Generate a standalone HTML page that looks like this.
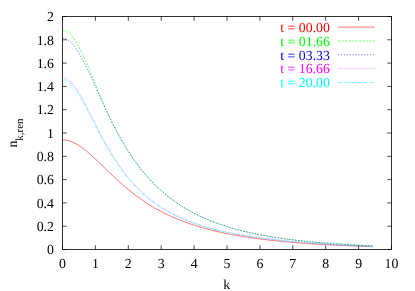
<!DOCTYPE html>
<html><head><meta charset="utf-8"><title>plot</title>
<style>
html,body{margin:0;padding:0;background:#fff;}
body{width:415px;height:291px;overflow:hidden;font-family:"Liberation Serif",serif;}
svg{display:block;will-change:transform;}
text{text-rendering:geometricPrecision;font-family:"Liberation Serif",serif;font-size:13.8px;fill:#000;}
.ax{stroke:#000;stroke-width:0.8;fill:none;}
.tk{stroke:#000;stroke-width:0.7;fill:none;}
.c{fill:none;stroke-width:0.56;}
</style></head><body>
<svg width="415" height="291" viewBox="0 0 415 291">
<rect x="0" y="0" width="415" height="291" fill="#fff"/>
<path class="tk" d="M62.50,249.5v-4.3M62.50,16.5v4.3M62.5,249.50h4.3M391.5,249.50h-4.3M95.40,249.5v-4.3M95.40,16.5v4.3M62.5,226.20h4.3M391.5,226.20h-4.3M128.30,249.5v-4.3M128.30,16.5v4.3M62.5,202.90h4.3M391.5,202.90h-4.3M161.20,249.5v-4.3M161.20,16.5v4.3M62.5,179.60h4.3M391.5,179.60h-4.3M194.10,249.5v-4.3M194.10,16.5v4.3M62.5,156.30h4.3M391.5,156.30h-4.3M227.00,249.5v-4.3M227.00,16.5v4.3M62.5,133.00h4.3M391.5,133.00h-4.3M259.90,249.5v-4.3M259.90,16.5v4.3M62.5,109.70h4.3M391.5,109.70h-4.3M292.80,249.5v-4.3M292.80,16.5v4.3M62.5,86.40h4.3M391.5,86.40h-4.3M325.70,249.5v-4.3M325.70,16.5v4.3M62.5,63.10h4.3M391.5,63.10h-4.3M358.60,249.5v-4.3M358.60,16.5v4.3M62.5,39.80h4.3M391.5,39.80h-4.3M391.50,249.5v-4.3M391.50,16.5v4.3M62.5,16.50h4.3M391.5,16.50h-4.3"/>
<rect class="ax" x="62.5" y="16.5" width="329.0" height="233.0"/>
<text x="53.9" y="254.25" text-anchor="end">0</text>
<text x="53.9" y="230.95" text-anchor="end">0.2</text>
<text x="53.9" y="207.65" text-anchor="end">0.4</text>
<text x="53.9" y="184.35" text-anchor="end">0.6</text>
<text x="53.9" y="161.05" text-anchor="end">0.8</text>
<text x="53.9" y="137.75" text-anchor="end">1</text>
<text x="53.9" y="114.45" text-anchor="end">1.2</text>
<text x="53.9" y="91.15" text-anchor="end">1.4</text>
<text x="53.9" y="67.85" text-anchor="end">1.6</text>
<text x="53.9" y="44.55" text-anchor="end">1.8</text>
<text x="53.9" y="21.25" text-anchor="end">2</text>
<text x="62.50" y="267.9" text-anchor="middle">0</text>
<text x="95.40" y="267.9" text-anchor="middle">1</text>
<text x="128.30" y="267.9" text-anchor="middle">2</text>
<text x="161.20" y="267.9" text-anchor="middle">3</text>
<text x="194.10" y="267.9" text-anchor="middle">4</text>
<text x="227.00" y="267.9" text-anchor="middle">5</text>
<text x="259.90" y="267.9" text-anchor="middle">6</text>
<text x="292.80" y="267.9" text-anchor="middle">7</text>
<text x="325.70" y="267.9" text-anchor="middle">8</text>
<text x="358.60" y="267.9" text-anchor="middle">9</text>
<text x="391.50" y="267.9" text-anchor="middle">10</text>
<text x="226.8" y="289.0" text-anchor="middle">k</text>
<text transform="translate(17.3,147.6) rotate(-90)">n<tspan font-size="11" dy="5.2">k,ren</tspan></text>
<path class="c" stroke="#ff0000" d="M62.5,139.9L63.5,139.9L64.6,140.0L65.6,140.1L66.7,140.3L67.7,140.5L68.7,140.8L69.8,141.1L70.8,141.4L71.8,141.8L72.9,142.3L73.9,142.8L75.0,143.3L76.0,143.8L77.0,144.4L78.1,145.0L79.1,145.7L80.1,146.4L81.2,147.1L82.2,147.8L83.3,148.6L84.3,149.4L85.3,150.2L86.4,151.0L87.4,151.9L88.4,152.8L89.5,153.7L90.5,154.6L91.6,155.5L92.6,156.5L93.6,157.4L94.7,158.4L95.7,159.4L96.7,160.3L97.8,161.3L98.8,162.3L99.9,163.3L100.9,164.3L101.9,165.3L103.0,166.3L104.0,167.3L105.0,168.4L106.1,169.4L107.1,170.4L108.2,171.4L109.2,172.4L110.2,173.4L111.3,174.3L112.3,175.3L113.3,176.3L114.4,177.3L115.4,178.2L116.5,179.2L117.5,180.1L118.5,181.1L119.6,182.0L120.6,182.9L121.6,183.9L122.7,184.8L123.7,185.7L124.8,186.6L125.8,187.4L126.8,188.3L127.9,189.2L128.9,190.0L129.9,190.9L131.0,191.7L132.0,192.5L133.1,193.3L134.1,194.2L135.1,194.9L136.2,195.7L137.2,196.5L138.2,197.3L139.3,198.0L140.3,198.8L141.4,199.5L142.4,200.2L143.4,200.9L144.5,201.6L145.5,202.3L146.5,203.0L147.6,203.7L148.6,204.3L149.7,205.0L150.7,205.6L151.7,206.3L152.8,206.9L153.8,207.5L154.8,208.1L155.9,208.7L156.9,209.3L158.0,209.8L159.0,210.4L160.0,210.9L161.1,211.5L162.1,212.0L163.1,212.6L164.2,213.1L165.2,213.6L166.3,214.1L167.3,214.6L168.3,215.1L169.4,215.6L170.4,216.0L171.4,216.5L172.5,217.0L173.5,217.4L174.6,217.9L175.6,218.3L176.6,218.7L177.7,219.2L178.7,219.6L179.8,220.0L180.8,220.4L181.8,220.8L182.9,221.2L183.9,221.6L184.9,222.0L186.0,222.4L187.0,222.7L188.1,223.1L189.1,223.5L190.1,223.8L191.2,224.2L192.2,224.5L193.2,224.9L194.3,225.2L195.3,225.5L196.4,225.8L197.4,226.2L198.4,226.5L199.5,226.8L200.5,227.1L201.5,227.4L202.6,227.7L203.6,228.0L204.7,228.3L205.7,228.6L206.7,228.8L207.8,229.1L208.8,229.4L209.8,229.7L210.9,229.9L211.9,230.2L213.0,230.4L214.0,230.7L215.0,230.9L216.1,231.2L217.1,231.4L218.1,231.7L219.2,231.9L220.2,232.1L221.3,232.4L222.3,232.6L223.3,232.8L224.4,233.0L225.4,233.3L226.4,233.5L227.5,233.7L228.5,233.9L229.6,234.1L230.6,234.3L231.6,234.5L232.7,234.7L233.7,234.9L234.7,235.1L235.8,235.2L236.8,235.4L237.9,235.6L238.9,235.8L239.9,236.0L241.0,236.1L242.0,236.3L243.0,236.5L244.1,236.7L245.1,236.8L246.2,237.0L247.2,237.1L248.2,237.3L249.3,237.5L250.3,237.6L251.3,237.8L252.4,237.9L253.4,238.1L254.5,238.2L255.5,238.3L256.5,238.5L257.6,238.6L258.6,238.8L259.6,238.9L260.7,239.0L261.7,239.2L262.8,239.3L263.8,239.4L264.8,239.5L265.9,239.7L266.9,239.8L267.9,239.9L269.0,240.0L270.0,240.2L271.1,240.3L272.1,240.4L273.1,240.5L274.2,240.6L275.2,240.7L276.2,240.8L277.3,240.9L278.3,241.0L279.4,241.2L280.4,241.3L281.4,241.4L282.5,241.5L283.5,241.6L284.5,241.7L285.6,241.7L286.6,241.8L287.7,241.9L288.7,242.0L289.7,242.1L290.8,242.2L291.8,242.3L292.9,242.4L293.9,242.5L294.9,242.6L296.0,242.6L297.0,242.7L298.0,242.8L299.1,242.9L300.1,243.0L301.2,243.1L302.2,243.1L303.2,243.2L304.3,243.3L305.3,243.4L306.3,243.4L307.4,243.5L308.4,243.6L309.5,243.6L310.5,243.7L311.5,243.8L312.6,243.9L313.6,243.9L314.6,244.0L315.7,244.1L316.7,244.1L317.8,244.2L318.8,244.3L319.8,244.3L320.9,244.4L321.9,244.4L322.9,244.5L324.0,244.6L325.0,244.6L326.1,244.7L327.1,244.7L328.1,244.8L329.2,244.8L330.2,244.9L331.2,245.0L332.3,245.0L333.3,245.1L334.4,245.1L335.4,245.2L336.4,245.2L337.5,245.3L338.5,245.3L339.5,245.4L340.6,245.4L341.6,245.5L342.7,245.5L343.7,245.6L344.7,245.6L345.8,245.6L346.8,245.7L347.8,245.7L348.9,245.8L349.9,245.8L351.0,245.9L352.0,245.9L353.0,245.9L354.1,246.0L355.1,246.0L356.1,246.1L357.2,246.1L358.2,246.1L359.3,246.2L360.3,246.2L361.3,246.3L362.4,246.3L363.4,246.3L364.4,246.4L365.5,246.4L366.5,246.4L367.6,246.5L368.6,246.5L369.6,246.5L370.7,246.6L371.7,246.6L372.7,246.7"/>
<path class="c" stroke="#00ff00" stroke-dasharray="2.33,1.17" d="M62.5,30.3L63.5,30.4L64.6,30.7L65.6,31.0L66.7,31.6L67.7,32.2L68.7,33.0L69.8,33.9L70.8,35.0L71.8,36.1L72.9,37.4L73.9,38.8L75.0,40.3L76.0,42.0L77.0,43.7L78.1,45.5L79.1,47.4L80.1,49.3L81.2,51.4L82.2,53.5L83.3,55.7L84.3,57.9L85.3,60.2L86.4,62.6L87.4,65.0L88.4,67.4L89.5,69.9L90.5,72.4L91.6,75.0L92.6,77.5L93.6,80.1L94.7,82.6L95.7,85.2L96.7,87.8L97.8,90.3L98.8,92.9L99.9,95.4L100.9,97.9L101.9,100.3L103.0,102.8L104.0,105.2L105.0,107.5L106.1,109.9L107.1,112.2L108.2,114.4L109.2,116.6L110.2,118.8L111.3,121.0L112.3,123.1L113.3,125.1L114.4,127.2L115.4,129.2L116.5,131.2L117.5,133.1L118.5,135.0L119.6,136.9L120.6,138.8L121.6,140.6L122.7,142.3L123.7,144.1L124.8,145.8L125.8,147.5L126.8,149.2L127.9,150.8L128.9,152.4L129.9,154.0L131.0,155.5L132.0,157.1L133.1,158.6L134.1,160.0L135.1,161.5L136.2,162.9L137.2,164.3L138.2,165.6L139.3,167.0L140.3,168.3L141.4,169.6L142.4,170.9L143.4,172.1L144.5,173.4L145.5,174.6L146.5,175.8L147.6,176.9L148.6,178.1L149.7,179.2L150.7,180.3L151.7,181.4L152.8,182.5L153.8,183.5L154.8,184.6L155.9,185.6L156.9,186.6L158.0,187.5L159.0,188.5L160.0,189.5L161.1,190.4L162.1,191.3L163.1,192.2L164.2,193.1L165.2,194.0L166.3,194.8L167.3,195.7L168.3,196.5L169.4,197.3L170.4,198.1L171.4,198.9L172.5,199.7L173.5,200.4L174.6,201.2L175.6,201.9L176.6,202.6L177.7,203.4L178.7,204.1L179.8,204.7L180.8,205.4L181.8,206.1L182.9,206.7L183.9,207.4L184.9,208.0L186.0,208.6L187.0,209.2L188.1,209.9L189.1,210.4L190.1,211.0L191.2,211.6L192.2,212.2L193.2,212.7L194.3,213.3L195.3,213.8L196.4,214.3L197.4,214.8L198.4,215.4L199.5,215.9L200.5,216.4L201.5,216.8L202.6,217.3L203.6,217.8L204.7,218.3L205.7,218.7L206.7,219.2L207.8,219.6L208.8,220.0L209.8,220.5L210.9,220.9L211.9,221.3L213.0,221.7L214.0,222.1L215.0,222.5L216.1,222.9L217.1,223.3L218.1,223.6L219.2,224.0L220.2,224.4L221.3,224.7L222.3,225.1L223.3,225.4L224.4,225.8L225.4,226.1L226.4,226.5L227.5,226.8L228.5,227.1L229.6,227.4L230.6,227.7L231.6,228.0L232.7,228.3L233.7,228.6L234.7,228.9L235.8,229.2L236.8,229.5L237.9,229.8L238.9,230.1L239.9,230.3L241.0,230.6L242.0,230.9L243.0,231.1L244.1,231.4L245.1,231.6L246.2,231.9L247.2,232.1L248.2,232.3L249.3,232.6L250.3,232.8L251.3,233.0L252.4,233.3L253.4,233.5L254.5,233.7L255.5,233.9L256.5,234.1L257.6,234.3L258.6,234.6L259.6,234.8L260.7,235.0L261.7,235.1L262.8,235.3L263.8,235.5L264.8,235.7L265.9,235.9L266.9,236.1L267.9,236.3L269.0,236.4L270.0,236.6L271.1,236.8L272.1,237.0L273.1,237.1L274.2,237.3L275.2,237.5L276.2,237.6L277.3,237.8L278.3,237.9L279.4,238.1L280.4,238.2L281.4,238.4L282.5,238.5L283.5,238.7L284.5,238.8L285.6,239.0L286.6,239.1L287.7,239.2L288.7,239.4L289.7,239.5L290.8,239.6L291.8,239.7L292.9,239.9L293.9,240.0L294.9,240.1L296.0,240.2L297.0,240.4L298.0,240.5L299.1,240.6L300.1,240.7L301.2,240.8L302.2,240.9L303.2,241.0L304.3,241.2L305.3,241.3L306.3,241.4L307.4,241.5L308.4,241.6L309.5,241.7L310.5,241.8L311.5,241.9L312.6,242.0L313.6,242.1L314.6,242.1L315.7,242.2L316.7,242.3L317.8,242.4L318.8,242.5L319.8,242.6L320.9,242.7L321.9,242.8L322.9,242.9L324.0,242.9L325.0,243.0L326.1,243.1L327.1,243.2L328.1,243.3L329.2,243.3L330.2,243.4L331.2,243.5L332.3,243.6L333.3,243.6L334.4,243.7L335.4,243.8L336.4,243.8L337.5,243.9L338.5,244.0L339.5,244.0L340.6,244.1L341.6,244.2L342.7,244.2L343.7,244.3L344.7,244.4L345.8,244.4L346.8,244.5L347.8,244.6L348.9,244.6L349.9,244.7L351.0,244.7L352.0,244.8L353.0,244.8L354.1,244.9L355.1,245.0L356.1,245.0L357.2,245.1L358.2,245.1L359.3,245.2L360.3,245.2L361.3,245.3L362.4,245.3L363.4,245.4L364.4,245.4L365.5,245.5L366.5,245.5L367.6,245.6L368.6,245.6L369.6,245.7L370.7,245.7L371.7,245.7L372.7,245.8"/>
<path class="c" stroke="#0000ff" stroke-dasharray="1.17,1.75" d="M62.5,38.0L63.5,38.1L64.6,38.3L65.6,38.6L66.7,39.1L67.7,39.7L68.7,40.4L69.8,41.3L70.8,42.2L71.8,43.3L72.9,44.5L73.9,45.8L75.0,47.2L76.0,48.6L77.0,50.2L78.1,51.8L79.1,53.5L80.1,55.3L81.2,57.2L82.2,59.1L83.3,61.0L84.3,63.1L85.3,65.1L86.4,67.2L87.4,69.4L88.4,71.6L89.5,73.8L90.5,76.0L91.6,78.2L92.6,80.5L93.6,82.8L94.7,85.1L95.7,87.4L96.7,89.7L97.8,92.0L98.8,94.3L99.9,96.6L100.9,98.8L101.9,101.1L103.0,103.3L104.0,105.6L105.0,107.8L106.1,110.0L107.1,112.1L108.2,114.3L109.2,116.4L110.2,118.5L111.3,120.6L112.3,122.7L113.3,124.7L114.4,126.7L115.4,128.7L116.5,130.7L117.5,132.6L118.5,134.5L119.6,136.4L120.6,138.2L121.6,140.1L122.7,141.9L123.7,143.7L124.8,145.4L125.8,147.1L126.8,148.8L127.9,150.5L128.9,152.1L129.9,153.7L131.0,155.3L132.0,156.9L133.1,158.4L134.1,159.9L135.1,161.4L136.2,162.8L137.2,164.2L138.2,165.6L139.3,167.0L140.3,168.3L141.4,169.6L142.4,170.9L143.4,172.2L144.5,173.4L145.5,174.7L146.5,175.9L147.6,177.0L148.6,178.2L149.7,179.3L150.7,180.5L151.7,181.6L152.8,182.6L153.8,183.7L154.8,184.7L155.9,185.7L156.9,186.8L158.0,187.7L159.0,188.7L160.0,189.7L161.1,190.6L162.1,191.5L163.1,192.4L164.2,193.3L165.2,194.2L166.3,195.0L167.3,195.9L168.3,196.7L169.4,197.5L170.4,198.3L171.4,199.1L172.5,199.9L173.5,200.6L174.6,201.4L175.6,202.1L176.6,202.8L177.7,203.5L178.7,204.2L179.8,204.9L180.8,205.6L181.8,206.2L182.9,206.9L183.9,207.5L184.9,208.1L186.0,208.8L187.0,209.4L188.1,210.0L189.1,210.6L190.1,211.1L191.2,211.7L192.2,212.3L193.2,212.8L194.3,213.3L195.3,213.9L196.4,214.4L197.4,214.9L198.4,215.4L199.5,215.9L200.5,216.4L201.5,216.9L202.6,217.4L203.6,217.8L204.7,218.3L205.7,218.7L206.7,219.2L207.8,219.6L208.8,220.0L209.8,220.5L210.9,220.9L211.9,221.3L213.0,221.7L214.0,222.1L215.0,222.5L216.1,222.9L217.1,223.3L218.1,223.6L219.2,224.0L220.2,224.4L221.3,224.7L222.3,225.1L223.3,225.4L224.4,225.7L225.4,226.1L226.4,226.4L227.5,226.7L228.5,227.0L229.6,227.4L230.6,227.7L231.6,228.0L232.7,228.3L233.7,228.6L234.7,228.9L235.8,229.1L236.8,229.4L237.9,229.7L238.9,230.0L239.9,230.2L241.0,230.5L242.0,230.8L243.0,231.0L244.1,231.3L245.1,231.5L246.2,231.8L247.2,232.0L248.2,232.3L249.3,232.5L250.3,232.7L251.3,232.9L252.4,233.2L253.4,233.4L254.5,233.6L255.5,233.8L256.5,234.0L257.6,234.2L258.6,234.5L259.6,234.7L260.7,234.9L261.7,235.0L262.8,235.2L263.8,235.4L264.8,235.6L265.9,235.8L266.9,236.0L267.9,236.2L269.0,236.3L270.0,236.5L271.1,236.7L272.1,236.9L273.1,237.0L274.2,237.2L275.2,237.4L276.2,237.5L277.3,237.7L278.3,237.8L279.4,238.0L280.4,238.1L281.4,238.3L282.5,238.4L283.5,238.6L284.5,238.7L285.6,238.9L286.6,239.0L287.7,239.1L288.7,239.3L289.7,239.4L290.8,239.5L291.8,239.7L292.9,239.8L293.9,239.9L294.9,240.1L296.0,240.2L297.0,240.3L298.0,240.4L299.1,240.5L300.1,240.7L301.2,240.8L302.2,240.9L303.2,241.0L304.3,241.1L305.3,241.2L306.3,241.3L307.4,241.4L308.4,241.5L309.5,241.6L310.5,241.7L311.5,241.8L312.6,241.9L313.6,242.0L314.6,242.1L315.7,242.2L316.7,242.3L317.8,242.4L318.8,242.5L319.8,242.6L320.9,242.7L321.9,242.8L322.9,242.9L324.0,242.9L325.0,243.0L326.1,243.1L327.1,243.2L328.1,243.3L329.2,243.4L330.2,243.4L331.2,243.5L332.3,243.6L333.3,243.7L334.4,243.7L335.4,243.8L336.4,243.9L337.5,244.0L338.5,244.0L339.5,244.1L340.6,244.2L341.6,244.2L342.7,244.3L343.7,244.4L344.7,244.4L345.8,244.5L346.8,244.6L347.8,244.6L348.9,244.7L349.9,244.7L351.0,244.8L352.0,244.9L353.0,244.9L354.1,245.0L355.1,245.0L356.1,245.1L357.2,245.2L358.2,245.2L359.3,245.3L360.3,245.3L361.3,245.4L362.4,245.4L363.4,245.5L364.4,245.5L365.5,245.6L366.5,245.6L367.6,245.7L368.6,245.7L369.6,245.8L370.7,245.8L371.7,245.9L372.7,245.9"/>
<path class="c" stroke="#ff00ff" stroke-dasharray="0.58,0.87" d="M62.5,77.5L63.5,77.6L64.6,77.8L65.6,78.1L66.7,78.6L67.7,79.3L68.7,80.0L69.8,80.9L70.8,81.9L71.8,83.0L72.9,84.2L73.9,85.4L75.0,86.8L76.0,88.3L77.0,89.8L78.1,91.4L79.1,93.1L80.1,94.9L81.2,96.7L82.2,98.5L83.3,100.4L84.3,102.3L85.3,104.3L86.4,106.3L87.4,108.3L88.4,110.3L89.5,112.4L90.5,114.5L91.6,116.5L92.6,118.6L93.6,120.7L94.7,122.7L95.7,124.8L96.7,126.8L97.8,128.9L98.8,130.9L99.9,132.9L100.9,134.8L101.9,136.8L103.0,138.7L104.0,140.6L105.0,142.4L106.1,144.3L107.1,146.1L108.2,147.9L109.2,149.6L110.2,151.4L111.3,153.1L112.3,154.8L113.3,156.4L114.4,158.0L115.4,159.6L116.5,161.2L117.5,162.8L118.5,164.3L119.6,165.8L120.6,167.2L121.6,168.7L122.7,170.1L123.7,171.5L124.8,172.9L125.8,174.2L126.8,175.5L127.9,176.8L128.9,178.1L129.9,179.3L131.0,180.5L132.0,181.7L133.1,182.9L134.1,184.1L135.1,185.2L136.2,186.3L137.2,187.4L138.2,188.4L139.3,189.5L140.3,190.5L141.4,191.5L142.4,192.4L143.4,193.4L144.5,194.3L145.5,195.2L146.5,196.1L147.6,197.0L148.6,197.9L149.7,198.7L150.7,199.5L151.7,200.4L152.8,201.1L153.8,201.9L154.8,202.7L155.9,203.4L156.9,204.2L158.0,204.9L159.0,205.6L160.0,206.3L161.1,206.9L162.1,207.6L163.1,208.2L164.2,208.9L165.2,209.5L166.3,210.1L167.3,210.7L168.3,211.3L169.4,211.9L170.4,212.5L171.4,213.0L172.5,213.6L173.5,214.1L174.6,214.6L175.6,215.1L176.6,215.7L177.7,216.1L178.7,216.6L179.8,217.1L180.8,217.6L181.8,218.1L182.9,218.5L183.9,219.0L184.9,219.4L186.0,219.8L187.0,220.2L188.1,220.7L189.1,221.1L190.1,221.5L191.2,221.9L192.2,222.3L193.2,222.6L194.3,223.0L195.3,223.4L196.4,223.7L197.4,224.1L198.4,224.4L199.5,224.8L200.5,225.1L201.5,225.5L202.6,225.8L203.6,226.1L204.7,226.4L205.7,226.7L206.7,227.0L207.8,227.3L208.8,227.6L209.8,227.9L210.9,228.2L211.9,228.5L213.0,228.8L214.0,229.0L215.0,229.3L216.1,229.6L217.1,229.8L218.1,230.1L219.2,230.3L220.2,230.6L221.3,230.8L222.3,231.1L223.3,231.3L224.4,231.5L225.4,231.8L226.4,232.0L227.5,232.2L228.5,232.4L229.6,232.6L230.6,232.9L231.6,233.1L232.7,233.3L233.7,233.5L234.7,233.7L235.8,233.9L236.8,234.1L237.9,234.3L238.9,234.5L239.9,234.6L241.0,234.8L242.0,235.0L243.0,235.2L244.1,235.4L245.1,235.5L246.2,235.7L247.2,235.9L248.2,236.0L249.3,236.2L250.3,236.4L251.3,236.5L252.4,236.7L253.4,236.8L254.5,237.0L255.5,237.1L256.5,237.3L257.6,237.4L258.6,237.6L259.6,237.7L260.7,237.9L261.7,238.0L262.8,238.1L263.8,238.3L264.8,238.4L265.9,238.5L266.9,238.7L267.9,238.8L269.0,238.9L270.0,239.0L271.1,239.2L272.1,239.3L273.1,239.4L274.2,239.5L275.2,239.6L276.2,239.8L277.3,239.9L278.3,240.0L279.4,240.1L280.4,240.2L281.4,240.3L282.5,240.4L283.5,240.5L284.5,240.6L285.6,240.7L286.6,240.8L287.7,240.9L288.7,241.0L289.7,241.1L290.8,241.2L291.8,241.3L292.9,241.4L293.9,241.5L294.9,241.6L296.0,241.7L297.0,241.8L298.0,241.9L299.1,242.0L300.1,242.1L301.2,242.2L302.2,242.2L303.2,242.3L304.3,242.4L305.3,242.5L306.3,242.6L307.4,242.7L308.4,242.7L309.5,242.8L310.5,242.9L311.5,243.0L312.6,243.0L313.6,243.1L314.6,243.2L315.7,243.3L316.7,243.3L317.8,243.4L318.8,243.5L319.8,243.6L320.9,243.6L321.9,243.7L322.9,243.8L324.0,243.8L325.0,243.9L326.1,244.0L327.1,244.0L328.1,244.1L329.2,244.2L330.2,244.2L331.2,244.3L332.3,244.4L333.3,244.4L334.4,244.5L335.4,244.5L336.4,244.6L337.5,244.7L338.5,244.7L339.5,244.8L340.6,244.8L341.6,244.9L342.7,244.9L343.7,245.0L344.7,245.0L345.8,245.1L346.8,245.2L347.8,245.2L348.9,245.3L349.9,245.3L351.0,245.4L352.0,245.4L353.0,245.5L354.1,245.5L355.1,245.6L356.1,245.6L357.2,245.7L358.2,245.7L359.3,245.8L360.3,245.8L361.3,245.9L362.4,245.9L363.4,245.9L364.4,246.0L365.5,246.0L366.5,246.1L367.6,246.1L368.6,246.2L369.6,246.2L370.7,246.2L371.7,246.3L372.7,246.3"/>
<path class="c" stroke="#00ffff" stroke-dasharray="3.75,0.92,0.8,0.92" d="M62.5,79.5L63.5,79.6L64.6,79.8L65.6,80.2L66.7,80.7L67.7,81.3L68.7,82.1L69.8,82.9L70.8,83.9L71.8,85.0L72.9,86.2L73.9,87.4L75.0,88.8L76.0,90.3L77.0,91.8L78.1,93.4L79.1,95.0L80.1,96.8L81.2,98.6L82.2,100.4L83.3,102.3L84.3,104.2L85.3,106.1L86.4,108.1L87.4,110.1L88.4,112.1L89.5,114.1L90.5,116.2L91.6,118.2L92.6,120.3L93.6,122.3L94.7,124.4L95.7,126.4L96.7,128.4L97.8,130.4L98.8,132.4L99.9,134.4L100.9,136.3L101.9,138.3L103.0,140.2L104.0,142.0L105.0,143.9L106.1,145.7L107.1,147.5L108.2,149.3L109.2,151.0L110.2,152.7L111.3,154.4L112.3,156.1L113.3,157.7L114.4,159.4L115.4,160.9L116.5,162.5L117.5,164.0L118.5,165.6L119.6,167.0L120.6,168.5L121.6,169.9L122.7,171.3L123.7,172.7L124.8,174.1L125.8,175.4L126.8,176.7L127.9,178.0L128.9,179.2L129.9,180.5L131.0,181.7L132.0,182.9L133.1,184.0L134.1,185.2L135.1,186.3L136.2,187.4L137.2,188.4L138.2,189.5L139.3,190.5L140.3,191.5L141.4,192.5L142.4,193.5L143.4,194.4L144.5,195.3L145.5,196.2L146.5,197.1L147.6,198.0L148.6,198.8L149.7,199.6L150.7,200.4L151.7,201.2L152.8,202.0L153.8,202.8L154.8,203.5L155.9,204.3L156.9,205.0L158.0,205.7L159.0,206.4L160.0,207.1L161.1,207.7L162.1,208.4L163.1,209.0L164.2,209.6L165.2,210.2L166.3,210.8L167.3,211.4L168.3,212.0L169.4,212.6L170.4,213.1L171.4,213.7L172.5,214.2L173.5,214.7L174.6,215.3L175.6,215.8L176.6,216.3L177.7,216.7L178.7,217.2L179.8,217.7L180.8,218.2L181.8,218.6L182.9,219.0L183.9,219.5L184.9,219.9L186.0,220.3L187.0,220.8L188.1,221.2L189.1,221.6L190.1,222.0L191.2,222.3L192.2,222.7L193.2,223.1L194.3,223.5L195.3,223.8L196.4,224.2L197.4,224.5L198.4,224.9L199.5,225.2L200.5,225.5L201.5,225.8L202.6,226.2L203.6,226.5L204.7,226.8L205.7,227.1L206.7,227.4L207.8,227.7L208.8,228.0L209.8,228.3L210.9,228.5L211.9,228.8L213.0,229.1L214.0,229.4L215.0,229.6L216.1,229.9L217.1,230.1L218.1,230.4L219.2,230.6L220.2,230.9L221.3,231.1L222.3,231.3L223.3,231.6L224.4,231.8L225.4,232.0L226.4,232.3L227.5,232.5L228.5,232.7L229.6,232.9L230.6,233.1L231.6,233.3L232.7,233.5L233.7,233.7L234.7,233.9L235.8,234.1L236.8,234.3L237.9,234.5L238.9,234.7L239.9,234.9L241.0,235.0L242.0,235.2L243.0,235.4L244.1,235.6L245.1,235.7L246.2,235.9L247.2,236.1L248.2,236.2L249.3,236.4L250.3,236.6L251.3,236.7L252.4,236.9L253.4,237.0L254.5,237.2L255.5,237.3L256.5,237.5L257.6,237.6L258.6,237.8L259.6,237.9L260.7,238.0L261.7,238.2L262.8,238.3L263.8,238.4L264.8,238.6L265.9,238.7L266.9,238.8L267.9,239.0L269.0,239.1L270.0,239.2L271.1,239.3L272.1,239.5L273.1,239.6L274.2,239.7L275.2,239.8L276.2,239.9L277.3,240.0L278.3,240.2L279.4,240.3L280.4,240.4L281.4,240.5L282.5,240.6L283.5,240.7L284.5,240.8L285.6,240.9L286.6,241.0L287.7,241.1L288.7,241.2L289.7,241.3L290.8,241.4L291.8,241.5L292.9,241.6L293.9,241.7L294.9,241.8L296.0,241.9L297.0,242.0L298.0,242.1L299.1,242.2L300.1,242.2L301.2,242.3L302.2,242.4L303.2,242.5L304.3,242.6L305.3,242.7L306.3,242.8L307.4,242.8L308.4,242.9L309.5,243.0L310.5,243.1L311.5,243.2L312.6,243.2L313.6,243.3L314.6,243.4L315.7,243.5L316.7,243.5L317.8,243.6L318.8,243.7L319.8,243.7L320.9,243.8L321.9,243.9L322.9,244.0L324.0,244.0L325.0,244.1L326.1,244.2L327.1,244.2L328.1,244.3L329.2,244.4L330.2,244.4L331.2,244.5L332.3,244.5L333.3,244.6L334.4,244.7L335.4,244.7L336.4,244.8L337.5,244.9L338.5,244.9L339.5,245.0L340.6,245.0L341.6,245.1L342.7,245.1L343.7,245.2L344.7,245.3L345.8,245.3L346.8,245.4L347.8,245.4L348.9,245.5L349.9,245.5L351.0,245.6L352.0,245.6L353.0,245.7L354.1,245.7L355.1,245.8L356.1,245.8L357.2,245.9L358.2,245.9L359.3,246.0L360.3,246.0L361.3,246.1L362.4,246.1L363.4,246.2L364.4,246.2L365.5,246.3L366.5,246.3L367.6,246.3L368.6,246.4L369.6,246.4L370.7,246.5L371.7,246.5L372.7,246.6"/>
<text x="329.9" y="31.85" text-anchor="end" style="fill:#ff0000">t = 00.00</text>
<path class="c" stroke="#ff0000" d="M338,27.10H374.8"/>
<text x="329.9" y="45.70" text-anchor="end" style="fill:#00ff00">t = 01.66</text>
<path class="c" stroke="#00ff00" stroke-dasharray="2.33,1.17" d="M338,40.95H374.8"/>
<text x="329.9" y="59.55" text-anchor="end" style="fill:#0000ff">t = 03.33</text>
<path class="c" stroke="#0000ff" stroke-dasharray="1.17,1.75" d="M338,54.80H374.8"/>
<text x="329.9" y="73.40" text-anchor="end" style="fill:#ff00ff">t = 16.66</text>
<path class="c" stroke="#ff00ff" stroke-dasharray="0.58,0.87" d="M338,68.65H374.8"/>
<text x="329.9" y="87.25" text-anchor="end" style="fill:#00ffff">t = 20.00</text>
<path class="c" stroke="#00ffff" stroke-dasharray="3.50,1.17,0.58,1.17" d="M338,82.50H374.8"/>
</svg></body></html>
